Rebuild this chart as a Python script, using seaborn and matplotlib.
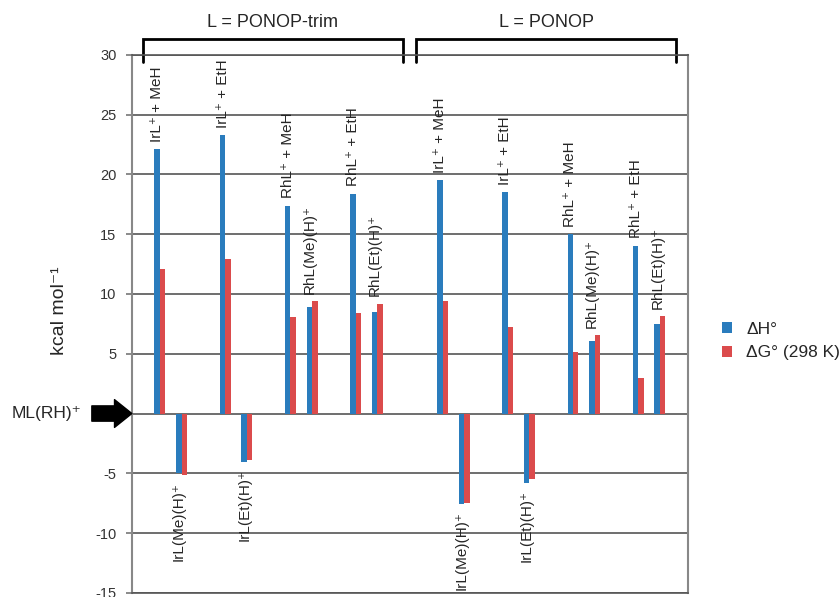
import numpy as np
import pandas as pd
import matplotlib
matplotlib.use('Agg')
import matplotlib.pyplot as plt
import seaborn as sns

# data (kcal/mol, relative to ML(RH)+)
groups = ['L = PONOP-trim', 'L = PONOP']
species = ['IrL⁺ + MeH', 'IrL(Me)(H)⁺', 'IrL⁺ + EtH', 'IrL(Et)(H)⁺',
           'RhL⁺ + MeH', 'RhL(Me)(H)⁺', 'RhL⁺ + EtH', 'RhL(Et)(H)⁺']
dH_trim = [22.1, -5.0, 23.3, -4.05, 17.4, 8.9, 18.4, 8.5]
dG_trim = [12.1, -5.15, 12.9, -3.9, 8.05, 9.4, 8.4, 9.2]
dH_ponop = [19.5, -7.55, 18.55, -5.8, 15.0, 6.1, 14.05, 7.5]
dG_ponop = [9.4, -7.5, 7.2, -5.5, 5.15, 6.55, 3.0, 8.15]
series = ['ΔH°', 'ΔG° (298 K)']
colors = {'ΔH°': '#2a7cbd', 'ΔG° (298 K)': '#db4b4c'}

# slot on the category axis: pairs separated by one empty slot, groups by two
def slot(g, i):
    return g * 13 + (i // 2) * 3 + (i % 2)

rows = []
values = [(dH_trim, dG_trim), (dH_ponop, dG_ponop)]
for g, (dh, dg) in enumerate(values):
    for i, name in enumerate(species):
        rows.append({'pos': slot(g, i), 'name': name, 'group': groups[g],
                     'series': series[0], 'value': dh[i]})
        rows.append({'pos': slot(g, i), 'name': name, 'group': groups[g],
                     'series': series[1], 'value': dg[i]})
df = pd.DataFrame(rows)

sns.set_style('white')
plt.rcParams['font.family'] = ['Liberation Sans', 'DejaVu Sans']
plt.rcParams['axes.unicode_minus'] = False

fig = plt.figure(figsize=(8.4, 5.97), dpi=100)
ax = fig.add_axes([0.157, 0.007, 0.662, 0.901])

sns.barplot(data=df, x='pos', y='value', hue='series', hue_order=series,
            palette=colors, native_scale=True, width=0.5, saturation=1,
            edgecolor='none', linewidth=0, ax=ax)

ax.set_ylim(-15, 30)
ax.set_xlim(-1.29, 24.29)
ax.set_yticks(np.arange(-15, 31, 5))
ax.set_xticks([])
ax.set_xlabel('')
ax.yaxis.grid(True, color='#555555', lw=1.2)
ax.set_axisbelow(True)
ax.tick_params(axis='y', length=4, width=1.2, color='#777777', labelsize=10.5,
               labelcolor='#333333', pad=7, left=True)
for side in ['left', 'right']:
    ax.spines[side].set_color('#888888')
    ax.spines[side].set_linewidth(1.5)
for side in ['top', 'bottom']:
    ax.spines[side].set_color('#555555')
    ax.spines[side].set_linewidth(1.2)

ax.set_ylabel('kcal mol⁻¹', fontsize=14)
ax.yaxis.set_label_coords(-0.115, 0.524)

# species labels, vertical, just past the end of each bar pair
for g, (dh, dg) in enumerate(values):
    for i, name in enumerate(species):
        x = slot(g, i) - 0.12
        if dh[i] > 0:
            ax.text(x, max(dh[i], dg[i]) + 0.6, name, rotation=90, ha='center',
                    va='bottom', fontsize=11)
        else:
            ax.text(x, min(dh[i], dg[i]) - 0.6, name, rotation=90, ha='center',
                    va='top', fontsize=11)

# group brackets on top
mid = (slot(0, 7) + slot(1, 0)) / 2
spans = [(slot(0, 0) - 0.8, mid - 0.3), (mid + 0.3, slot(1, 7) + 0.75)]
for (x0, x1), name in zip(spans, groups):
    ax.plot([x0, x0, x1, x1], [29.4, 31.3, 31.3, 29.4], color='black', lw=2,
            clip_on=False, solid_joinstyle='miter')
    ax.text((x0 + x1) / 2, 32.7, name, ha='center', va='center', fontsize=13)

# reference arrow at zero
trans = matplotlib.transforms.blended_transform_factory(ax.transAxes, ax.transData)
ax.annotate('', xy=(0, 0), xycoords=trans, xytext=(-0.072, 0), textcoords=trans,
            arrowprops=dict(arrowstyle='simple,head_length=1.25,head_width=2.0,tail_width=1.1',
                            color='black', shrinkA=0, shrinkB=0, mutation_scale=10),
            annotation_clip=False)
ax.text(-0.09, 0, 'ML(RH)⁺', transform=trans, ha='right', va='center', fontsize=12.5)

sns.move_legend(ax, loc='center left', bbox_to_anchor=(1.061, 0.468), title=None,
                frameon=False, handlelength=0.6, handleheight=0.6, borderpad=0,
                borderaxespad=0, handletextpad=0.8, labelspacing=0.5, fontsize=12.5)

fig.savefig('out.png', dpi=100)
